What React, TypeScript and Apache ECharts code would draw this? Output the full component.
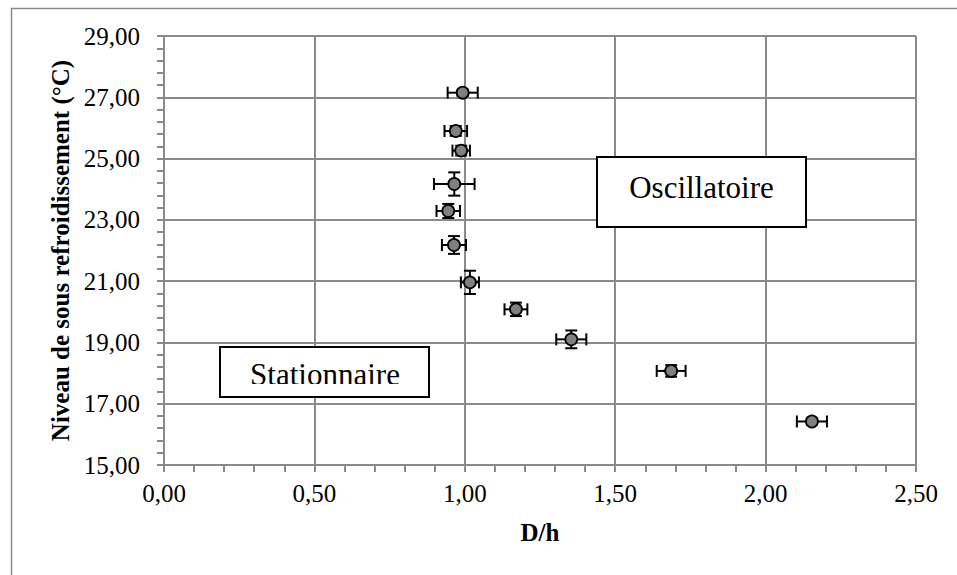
import React, { useEffect, useRef } from "react";
import * as echarts from "echarts";

const dh = [0.993, 0.97, 0.988, 0.965, 0.945, 0.964, 1.017, 1.17, 1.354, 1.686, 2.154];
const subcooling = [27.15, 25.9, 25.26, 24.17, 23.29, 22.18, 20.96, 20.08, 19.1, 18.07, 16.42];
const dhErr = [0.05, 0.0375, 0.029, 0.0675, 0.039, 0.04, 0.03, 0.038, 0.05, 0.048, 0.05];
const subErr = [0.1, 0.16, 0.16, 0.38, 0.23, 0.29, 0.38, 0.22, 0.29, 0.19, 0.1];
const regionLabels = ["Oscillatoire", "Stationnaire"];

const FONT = "Times New Roman, Liberation Serif, Tinos, serif";
const GRID = "#8a8a8a";

export default function App() {
  const ref = useRef<HTMLDivElement>(null);
  useEffect(() => {
    if (!ref.current) return;
    const chart = echarts.init(ref.current, null, { renderer: "svg" });
    const pts = dh.map((x, i) => [x, subcooling[i]]);
    const errs = dh.map((x, i) => [x, subcooling[i], dhErr[i], subErr[i]]);
    const fmt = (v: number) => v.toFixed(2).replace(".", ",");
    chart.setOption({
      animation: false,
      backgroundColor: "#ffffff",
      textStyle: { fontFamily: FONT },
      grid: { left: 164, right: 41, top: 36, bottom: 110, containLabel: false },
      xAxis: {
        type: "value",
        min: 0,
        max: 2.5,
        interval: 0.5,
        name: "D/h",
        nameLocation: "middle",
        nameGap: 55,
        nameTextStyle: { fontFamily: FONT, fontSize: 25, fontWeight: "bold", color: "#000" },
        axisLine: { show: true, lineStyle: { color: GRID, width: 2 } },
        axisTick: { show: true, length: 7, lineStyle: { color: GRID, width: 2 } },
        minorTick: { show: true, splitNumber: 5, length: 7, lineStyle: { color: GRID, width: 2 } },
        splitLine: { show: true, lineStyle: { color: GRID, width: 2 } },
        axisLabel: { formatter: fmt, fontFamily: FONT, fontSize: 25, color: "#000", margin: 16 },
      },
      yAxis: {
        type: "value",
        min: 15,
        max: 29,
        interval: 2,
        name: "Niveau de sous refroidissement (°C)",
        nameLocation: "middle",
        nameGap: 90,
        nameTextStyle: { fontFamily: FONT, fontSize: 25, fontWeight: "bold", color: "#000" },
        axisLine: { show: true, lineStyle: { color: GRID, width: 2 } },
        axisTick: { show: true, length: 7, lineStyle: { color: GRID, width: 2 } },
        minorTick: { show: true, splitNumber: 5, length: 7, lineStyle: { color: GRID, width: 2 } },
        splitLine: { show: true, lineStyle: { color: GRID, width: 2 } },
        axisLabel: { formatter: fmt, fontFamily: FONT, fontSize: 25, color: "#000", margin: 24 },
      },
      series: [
        {
          type: "custom",
          z: 1,
          data: errs,
          renderItem: (params: any, api: any) => {
            const x = api.value(0), y = api.value(1), ex = api.value(2), ey = api.value(3);
            const c = api.coord([x, y]);
            const l = api.coord([x - ex, y]);
            const r = api.coord([x + ex, y]);
            const t = api.coord([x, y + ey]);
            const b = api.coord([x, y - ey]);
            const cap = 6;
            const st = { stroke: "#000", lineWidth: 2 };
            return {
              type: "group",
              children: [
                { type: "line", shape: { x1: l[0], y1: c[1], x2: r[0], y2: c[1] }, style: st },
                { type: "line", shape: { x1: l[0], y1: c[1] - cap, x2: l[0], y2: c[1] + cap }, style: st },
                { type: "line", shape: { x1: r[0], y1: c[1] - cap, x2: r[0], y2: c[1] + cap }, style: st },
                { type: "line", shape: { x1: c[0], y1: t[1], x2: c[0], y2: b[1] }, style: st },
                { type: "line", shape: { x1: c[0] - cap, y1: t[1], x2: c[0] + cap, y2: t[1] }, style: st },
                { type: "line", shape: { x1: c[0] - cap, y1: b[1], x2: c[0] + cap, y2: b[1] }, style: st },
              ],
            };
          },
        },
        {
          type: "scatter",
          z: 3,
          data: pts,
          symbol: "circle",
          symbolSize: 12,
          itemStyle: { color: "#808080", borderColor: "#000", borderWidth: 1.8, opacity: 1 },
        },
      ],
      graphic: [
        {
          type: "rect",
          left: 9,
          top: 6,
          shape: { x: 0, y: 0, width: 960, height: 600 },
          style: { fill: "none", stroke: "#8a8a8a", lineWidth: 1.5 },
          silent: true,
          z: 0,
        },
        {
          type: "rect",
          shape: { x: 597, y: 157, width: 209, height: 70 },
          style: { fill: "#fff", stroke: "#000", lineWidth: 2 },
          z: 10,
        },
        {
          type: "text",
          x: 701.5,
          y: 172,
          style: { text: regionLabels[0], fill: "#000", fontFamily: FONT, fontSize: 31, align: "center", verticalAlign: "top" },
          z: 11,
        },
        {
          type: "rect",
          shape: { x: 220, y: 347, width: 209, height: 50 },
          style: { fill: "#fff", stroke: "#000", lineWidth: 2 },
          z: 10,
        },
        {
          type: "text",
          x: 325,
          y: 359,
          style: { text: regionLabels[1], fill: "#000", fontFamily: FONT, fontSize: 31, align: "center", verticalAlign: "top" },
          z: 11,
        },
        {
          type: "rect",
          shape: { x: 222, y: 384, width: 205, height: 11 },
          style: { fill: "#fff" },
          z: 12,
        },
      ],
    });
    return () => chart.dispose();
  }, []);
  return (
    <div
      ref={ref}
      style={{ width: 957, height: 575, position: "fixed", left: 0, top: 0, background: "#fff" }}
    />
  );
}
